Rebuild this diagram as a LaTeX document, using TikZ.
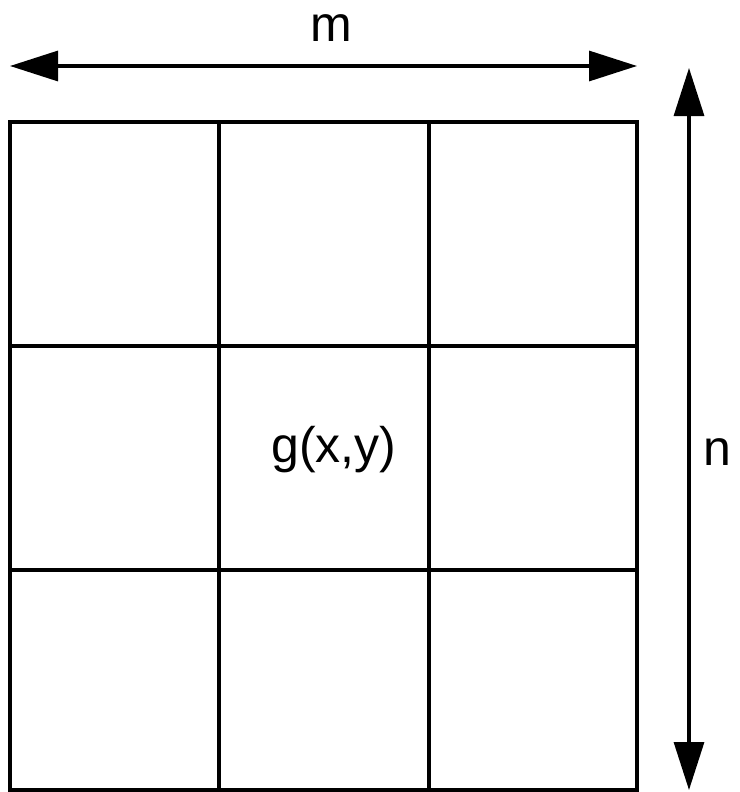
\documentclass[tikz,border=0pt]{standalone}
\usepackage{fontspec}
\setmainfont{Liberation Sans}
\usetikzlibrary{arrows.meta}
\begin{document}
\begin{tikzpicture}[x=1pt,y=-1pt,
  gridline/.style={line width=3.2pt, line cap=rect},
  dimarrow/.style={line width=3.2pt, {Triangle[length=48pt,width=30pt]}-{Triangle[length=48pt,width=30pt]}},
  lbl/.style={inner sep=0pt, font=\fontsize{50}{56}\selectfont}]
\useasboundingbox (0,0) rectangle (739,792);
% grid corners
\coordinate (tl) at (10,122);
\coordinate (br) at (637,790);
\draw[gridline] (tl) rectangle (br);
\coordinate (c1t) at (219,122); \coordinate (c1b) at (219,790);
\coordinate (c2t) at (429,122); \coordinate (c2b) at (429,790);
\coordinate (r1l) at (10,346); \coordinate (r1r) at (637,346);
\coordinate (r2l) at (10,570); \coordinate (r2r) at (637,570);
\draw[gridline] (c1t) -- (c1b);
\draw[gridline] (c2t) -- (c2b);
\draw[gridline] (r1l) -- (r1r);
\draw[gridline] (r2l) -- (r2r);
% dimension arrows
\coordinate (hl) at (10,66);
\coordinate (hr) at (637,66);
\draw[dimarrow] (hl) -- (hr);
\coordinate (vt) at (689,68);
\coordinate (vb) at (689,790);
\draw[dimarrow] (vt) -- (vb);
% labels
\node[lbl] (m) at (331,28) {m};
\node[lbl] (g) at (334,450) {g(x,y)};
\node[lbl] (n) at (717,452) {n};
\end{tikzpicture}
\end{document}
